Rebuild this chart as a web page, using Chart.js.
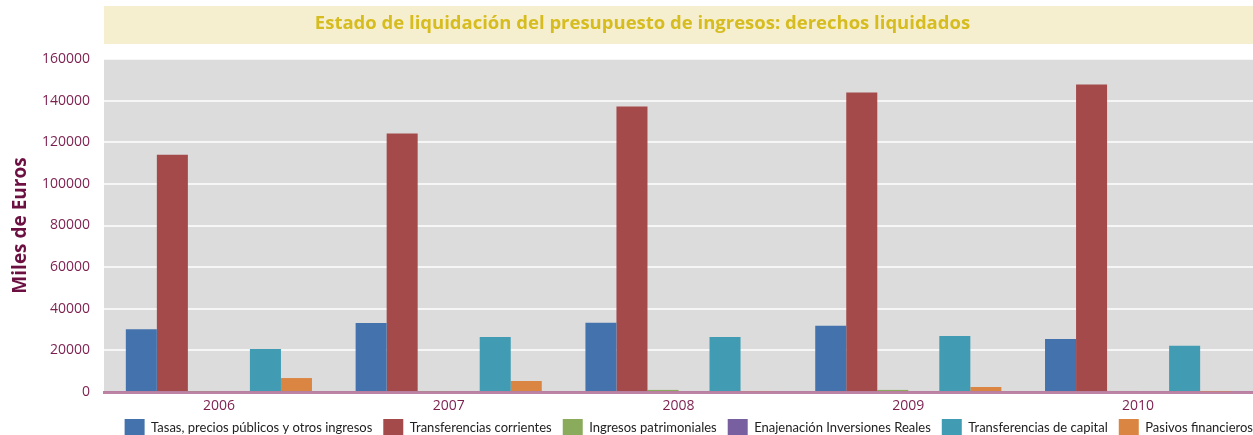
<!DOCTYPE html>
<html>
<head>
<meta charset="utf-8">
<script src="https://cdn.jsdelivr.net/npm/chart.js@4.4.0/dist/chart.umd.min.js"></script>
<style>
    html, body { margin: 0; padding: 0; background: #ffffff; }
    #wrap { width: 1253px; height: 435px; }
</style>
</head>
<body>
<div id="wrap"><canvas id="ingresosChart" width="1253" height="435"></canvas></div>
<script>
// Derechos liquidados por capítulo (miles de euros)
let years = ['2006', '2007', '2008', '2009', '2010'];
let tasas = [30200, 33200, 33300, 31800, 25500];
let transfCorrientes = [114000, 124200, 137200, 143900, 147700];
let patrimoniales = [400, 400, 1000, 1000, 500];
let enajenacion = [0, 0, 0, 0, 0];
let transfCapital = [20700, 26400, 26400, 26900, 22200];
let pasivos = [6700, 5300, 400, 2400, 300];

let yTicks = { min: 0, max: 160000, step: 20000 };
let titulo = 'Estado de liquidación del presupuesto de ingresos: derechos liquidados';

const maroon = '#7b1f4f';

// fondo gris del área de dibujo y banda del título
const fondo = {
    id: 'fondo',
    afterLayout(chart) {
        // leyenda un poco más arriba y pegada al borde derecho
        const lg = chart.legend;
        lg.top -= 12; lg.bottom -= 12;
        lg.left += 11; lg.right += 11;
    },
    beforeDraw(chart) {
        const { ctx, chartArea } = chart;
        ctx.save();
        ctx.fillStyle = '#dcdcdc';
        ctx.fillRect(chartArea.left, chartArea.top, chartArea.right - chartArea.left, chartArea.bottom - chartArea.top);
        ctx.fillStyle = '#f5efd0';
        ctx.fillRect(chartArea.left, 6, chartArea.right - chartArea.left, 38);
        ctx.fillStyle = '#d6bc1e';
        ctx.font = 'bold 18.5px "Open Sans"';
        ctx.textAlign = 'center';
        ctx.textBaseline = 'middle';
        ctx.fillText(titulo, chart.width / 2 + 16, 24);
        ctx.restore();
    }
};

function serie(label, data, color) {
    return {
        label: label,
        data: data,
        backgroundColor: color,
        borderWidth: 0,
        barPercentage: 1,
        categoryPercentage: 0.81
    };
}

window.onload = function() {
    const ctx = document.getElementById('ingresosChart').getContext('2d');
    new Chart(ctx, {
        type: 'bar',
        data: {
            labels: years,
            datasets: [
                serie('Tasas, precios públicos y otros ingresos', tasas, '#4472ac'),
                serie('Transferencias corrientes', transfCorrientes, '#a44a4b'),
                serie('Ingresos patrimoniales', patrimoniales, '#8aab5c'),
                serie('Enajenación Inversiones Reales', enajenacion, '#7860a0'),
                serie('Transferencias de capital', transfCapital, '#409bb3'),
                serie('Pasivos financieros', pasivos, '#db8542')
            ]
        },
        options: {
            responsive: false,
            animation: false,
            layout: { padding: { top: 59, right: 0, bottom: -23, left: 0 } },
            plugins: {
                title: { display: false },
                tooltip: { enabled: false },
                legend: {
                    position: 'bottom',
                    align: 'end',
                    labels: {
                        boxWidth: 20,
                        boxHeight: 17,
                        padding: 11,
                        color: '#222222',
                        font: { family: 'Lato', size: 13 }
                    }
                }
            },
            scales: {
                x: {
                    z: 1,
                    grid: { display: false, drawTicks: false },
                    border: { display: true, color: 'rgba(135, 30, 90, 0.55)', width: 3 },
                    ticks: { color: maroon, padding: 7, font: { family: '"Open Sans"', size: 14, lineHeight: 1 } }
                },
                y: {
                    z: 1,
                    min: yTicks.min,
                    max: yTicks.max,
                    afterFit: function(scale) { scale.width = 104; },
                    grid: { color: 'rgba(255, 255, 255, 0.75)', lineWidth: 2, drawTicks: false },
                    border: { display: false },
                    ticks: {
                        stepSize: yTicks.step,
                        color: maroon,
                        padding: 14,
                        font: { family: '"Open Sans"', size: 14 },
                        callback: function(value) { return String(value); }
                    },
                    title: {
                        display: true,
                        text: 'Miles de Euros',
                        color: '#6b1040',
                        padding: { top: 9, bottom: 8 },
                        font: { family: '"Open Sans"', size: 19, weight: 'bold' }
                    }
                }
            }
        },
        plugins: [fondo]
    });
};
</script>
</body>
</html>
